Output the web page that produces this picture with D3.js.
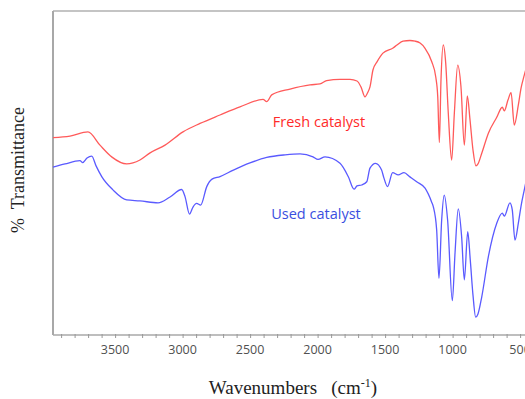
<!DOCTYPE html>
<html>
<head>
<meta charset="utf-8">
<script src="https://cdn.jsdelivr.net/npm/d3@7"></script>
<style>
  body { margin: 0; background: #fff; }
  svg { display: block; }
</style>
</head>
<body>
<svg width="525" height="399"></svg>
<script>
// wavenumbers (cm-1) and % transmittance, fresh catalyst
const freshWave = [3960, 3834, 3701, 3612, 3523, 3414, 3316, 3241, 3130, 2997, 2871, 2723, 2575, 2404, 2377, 2340,
  2204, 2056, 1982, 1933, 1834, 1760, 1708, 1678, 1649, 1627, 1612, 1590, 1560, 1516, 1441, 1412, 1367, 1316,
  1278, 1241, 1204, 1155, 1125, 1110, 1098, 1086, 1069, 1051, 1032, 1007, 987, 962, 938, 913, 891, 871, 849,
  827, 812, 784, 735, 673, 632, 617, 590, 567, 543, 513, 493, 469, 440];
const freshT = [60.9, 61.4, 62.7, 58.6, 54.9, 52.8, 54.0, 56.2, 58.6, 62.7, 65.3, 67.9, 70.4, 72.7, 72.0, 74.1,
  75.9, 77.2, 77.5, 78.5, 78.9, 78.9, 78.4, 76.5, 73.5, 75.0, 76.6, 81.8, 84.3, 87.0, 88.6, 89.5, 90.7, 90.9,
  90.7, 90.1, 88.5, 84.4, 79.7, 73.5, 59.4, 78.7, 89.5, 83.9, 68.5, 54.0, 68.5, 83.3, 76.6, 58.6, 73.8, 66.4, 57.1,
  52.2, 52.8, 56.1, 62.3, 67.2, 70.3, 69.2, 72.5, 74.8, 64.8, 71.0, 76.2, 80.2, 84.5];
// used catalyst
const usedWave = [3960, 3871, 3760, 3740, 3708, 3673, 3641, 3599, 3516, 3414, 3316, 3182, 3093, 3007, 2982, 2949,
  2923, 2896, 2866, 2821, 2782, 2723, 2624, 2501, 2377, 2241, 2130, 2034, 1997, 1945, 1834, 1773, 1730, 1708,
  1673, 1636, 1612, 1571, 1526, 1509, 1482, 1444, 1403, 1360, 1316, 1266, 1204, 1155, 1143, 1118, 1101, 1081,
  1062, 1037, 1002, 982, 958, 933, 913, 888, 869, 849, 829, 812, 784, 735, 673, 632, 617, 575, 558, 538, 513,
  493, 469, 440];
const usedT = [51.8, 52.8, 53.8, 53.2, 54.6, 55.2, 52.2, 48.9, 44.8, 41.7, 41.4, 40.8, 42.6, 44.9, 42.7, 37.3,
  39.5, 40.6, 40.1, 45.8, 48.1, 48.9, 50.9, 53.1, 54.8, 55.6, 55.9, 55.0, 54.2, 55.0, 53.0, 48.9, 45.0, 46.0,
  46.3, 47.3, 51.5, 53.0, 50.9, 48.5, 45.8, 50.1, 49.4, 50.1, 48.8, 47.3, 45.3, 41.0, 39.6, 32.4, 17.5, 35.5,
  43.2, 35.5, 10.6, 25.3, 38.9, 30.3, 17.0, 31.9, 23.1, 12.3, 5.5, 6.5, 11.8, 24.2, 34.5, 37.6, 36.7, 40.8, 38.6,
  29.3, 34.5, 39.8, 44.8, 50.5];
// axis ticks
const majorTicks = [3500, 3000, 2500, 2000, 1500, 1000, 500];
const minorTicks = d3.range(3900, 399, -100);

const svg = d3.select("svg");
// plot area, right side runs past the picture edge like the original
const margin = { top: 11, left: 53, bottom: 335 };

const xScale = d3.scaleLinear().domain([3960, 400]).range([margin.left, margin.left + 3560 * 0.135]);
const yScale = d3.scaleLinear().domain([0, 100]).range([margin.bottom, margin.top]);

//frame: top border, left axis
svg.append("line")
  .attr("x1", margin.left).attr("x2", 540)
  .attr("y1", margin.top).attr("y2", margin.top)
  .attr("stroke", "#b0b0b0").attr("stroke-width", 1.5);
svg.append("line")
  .attr("x1", margin.left).attr("x2", margin.left)
  .attr("y1", margin.top).attr("y2", margin.bottom)
  .attr("stroke", "#a8a8a8").attr("stroke-width", 2);

// bottom axis with minor ticks every 100
const xAxisG = svg.append("g")
  .attr("transform", `translate(0,${margin.bottom})`)
  .call(d3.axisBottom(xScale).tickValues(minorTicks).tickSize(3).tickFormat(""));
xAxisG.select(".domain").attr("stroke", "#a8a8a8").attr("stroke-width", 1.5)
  .attr("d", `M${margin.left},0H540`);
xAxisG.selectAll(".tick line").attr("stroke", "#999").attr("y1", -1);

// major tick labels (500 runs off the right edge as in the original)
svg.append("g")
  .selectAll("text")
  .data(majorTicks)
  .enter()
  .append("text")
  .attr("x", (d) => xScale(d))
  .attr("y", 354)
  .attr("text-anchor", "middle")
  .attr("font-family", "'Open Sans', sans-serif")
  .attr("font-size", "12.5px")
  .attr("fill", "#505050")
  .text((d) => d);

// spectra
const line = d3.line()
  .x((d) => xScale(d[0]))
  .y((d) => yScale(d[1]))
  .curve(d3.curveMonotoneX);

const series = [
  { name: "Fresh catalyst", wave: freshWave, t: freshT, stroke: "#ff5a5a", text: "#ff2a2a", label: [319, 127] },
  { name: "Used catalyst", wave: usedWave, t: usedT, stroke: "#5a5aff", text: "#3a4fe0", label: [316, 219] },
];

series.forEach((s) => {
  svg.append("path")
    .datum(s.wave.map((w, i) => [w, s.t[i]]))
    .attr("fill", "none")
    .attr("stroke", s.stroke)
    .attr("stroke-width", 1.3)
    .attr("stroke-linejoin", "round")
    .attr("d", line);
  svg.append("text")
    .attr("x", s.label[0])
    .attr("y", s.label[1])
    .attr("text-anchor", "middle")
    .attr("font-family", "'Open Sans', sans-serif")
    .attr("font-size", "14.5px")
    .attr("fill", s.text)
    .text(s.name);
});

// axis titles
const xTitle = svg.append("text")
  .attr("x", 293)
  .attr("y", 394)
  .attr("text-anchor", "middle")
  .attr("font-family", "'Liberation Serif', 'Times New Roman', serif")
  .attr("font-size", "19px")
  .attr("fill", "#222")
  .attr("xml:space", "preserve");
xTitle.append("tspan").text("Wavenumbers   (cm");
xTitle.append("tspan").attr("dy", -7).attr("font-size", "12px").text("-1");
xTitle.append("tspan").attr("dy", 7).text(")");

svg.append("text")
  .attr("transform", "translate(24,170) rotate(-90)")
  .attr("text-anchor", "middle")
  .attr("font-family", "'Liberation Serif', 'Times New Roman', serif")
  .attr("font-size", "18px")
  .attr("fill", "#222")
  .attr("xml:space", "preserve")
  .text("%  Transmittance");
</script>
</body>
</html>
